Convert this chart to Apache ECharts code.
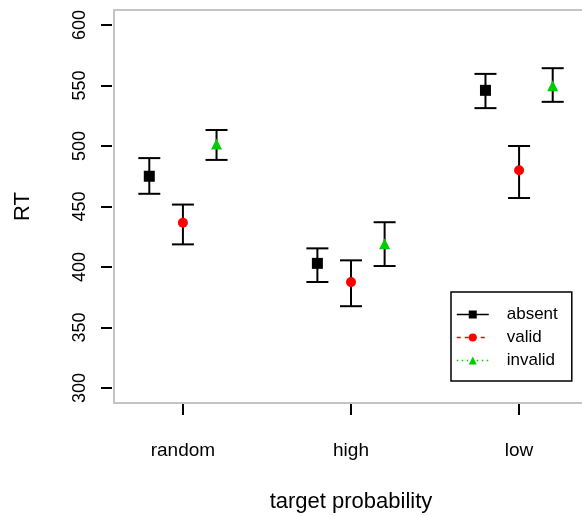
<!DOCTYPE html>
<html>
<head>
<meta charset="utf-8">
<script src="https://cdn.jsdelivr.net/npm/echarts@6/dist/echarts.min.js"></script>
<style>
  html, body { margin: 0; padding: 0; background: #fff; }
  #main { width: 582px; height: 516px; }
</style>
</head>
<body>
<div id="main"></div>
<script>
// categories on the x axis
var categories = ['random', 'high', 'low'];
var yTicks = [300, 350, 400, 450, 500, 550, 600];

// means and error bar ends
var absentMean = [475, 403, 546];
var absentLow = [460.5, 387.6, 531.3];
var absentHigh = [490, 415.4, 559.6];

var validMean = [436.5, 387.5, 480];
var validLow = [418.7, 367.6, 457];
var validHigh = [451.6, 405.5, 500];

var invalidMean = [501.7, 419.2, 549.7];
var invalidLow = [488.5, 400.8, 536.5];
var invalidHigh = [513.2, 437, 564.3];

var FONT = 'Liberation Sans';

function pts(vals, dodge) {
  return vals.map(function (v, i) { return [i + 1 + dodge, v]; });
}
function bars(lows, highs, dodge) {
  return lows.map(function (lo, i) { return [i + 1 + dodge, lo, highs[i]]; });
}

function errorBar(params, api) {
  var x = api.value(0);
  var lo = api.coord([x, api.value(1)]);
  var hi = api.coord([x, api.value(2)]);
  var w = 11;
  var st = { stroke: '#000', lineWidth: 2 };
  return {
    type: 'group',
    children: [
      { type: 'line', shape: { x1: lo[0], y1: lo[1], x2: hi[0], y2: hi[1] }, style: st },
      { type: 'line', shape: { x1: lo[0] - w, y1: lo[1], x2: lo[0] + w, y2: lo[1] }, style: st },
      { type: 'line', shape: { x1: hi[0] - w, y1: hi[1], x2: hi[0] + w, y2: hi[1] }, style: st }
    ]
  };
}

var groups = [
  { name: 'absent', mean: absentMean, low: absentLow, high: absentHigh, dodge: -0.2,
    color: '#000', symbol: 'rect', size: 11, line: 'solid' },
  { name: 'valid', mean: validMean, low: validLow, high: validHigh, dodge: 0,
    color: '#ff0000', symbol: 'circle', size: 10, line: [4, 4] },
  { name: 'invalid', mean: invalidMean, low: invalidLow, high: invalidHigh, dodge: 0.2,
    color: '#00cc00', symbol: 'triangle', size: 11, line: [1.5, 3.5] }
];

var series = [];
groups.forEach(function (g) {
  series.push({
    type: 'custom',
    renderItem: errorBar,
    data: bars(g.low, g.high, g.dodge),
    silent: true,
    z: 2
  });
});
groups.forEach(function (g) {
  series.push({
    name: g.name,
    type: 'line',
    data: pts(g.mean, g.dodge),
    symbol: g.symbol,
    symbolSize: g.size,
    showSymbol: true,
    itemStyle: { color: g.color, opacity: 1 },
    lineStyle: { opacity: 0 },
    z: 3
  });
});

var chart = echarts.init(document.getElementById('main'));
chart.setOption({
  animation: false,
  grid: {
    left: 114, top: 10, width: 474, bottom: 113,
    outerBoundsMode: 'none',
    containLabel: false,
    show: true, borderColor: '#c4c4c4', borderWidth: 2, backgroundColor: '#fff'
  },
  legend: {
    orient: 'vertical',
    left: 451, top: 292,
    padding: [14, 14, 12, 5],
    itemGap: 6,
    itemWidth: 32,
    itemHeight: 10,
    backgroundColor: '#fff',
    borderColor: '#000',
    borderWidth: 1.5,
    borderRadius: 0,
    textStyle: { fontFamily: FONT, fontSize: 17, color: '#000', padding: [0, 0, 0, 13] },
    data: groups.map(function (g) {
      return {
        name: g.name,
        lineStyle: { opacity: 1, color: g.color, width: 1.5, type: g.line }
      };
    })
  },
  xAxis: {
    type: 'value',
    min: 0.59, max: 3.41,
    offset: 1,
    name: 'target probability',
    nameLocation: 'middle',
    nameGap: 87,
    nameTextStyle: { fontFamily: FONT, fontSize: 22, color: '#000' },
    axisLine: { show: false },
    splitLine: { show: false },
    axisTick: { show: true, length: 11, customValues: [1, 2, 3], lineStyle: { color: '#000', width: 2 } },
    axisLabel: {
      customValues: [1, 2, 3],
      margin: 37,
      fontFamily: FONT, fontSize: 19, color: '#000',
      formatter: function (v) { return categories[Math.round(v) - 1]; }
    }
  },
  yAxis: {
    type: 'value',
    min: 287.6, max: 612.4,
    offset: 2,
    name: 'RT',
    nameLocation: 'middle',
    nameGap: 78,
    nameRotate: 90,
    nameTextStyle: { fontFamily: FONT, fontSize: 22, color: '#000' },
    axisLine: { show: false },
    splitLine: { show: false },
    axisTick: { show: true, length: 11, customValues: yTicks, lineStyle: { color: '#000', width: 2 } },
    axisLabel: {
      customValues: yTicks,
      rotate: 90,
      margin: 23,
      fontFamily: FONT, fontSize: 18, color: '#000'
    }
  },
  series: series
});
</script>
</body>
</html>
